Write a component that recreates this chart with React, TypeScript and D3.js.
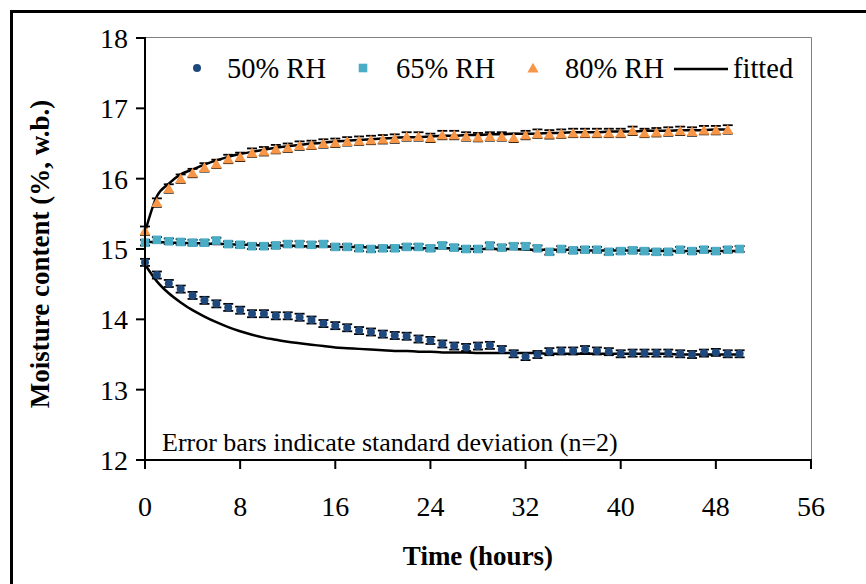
import React from "react";
import * as d3 from "d3";

const HOURS = [0,1,2,3,4,5,6,7,8,9,10,11,12,13,14,15,16,17,18,19,20,21,22,23,24,25,26,27,28,29,30,31,32,33,34,35,36,37,38,39,40,41,42,43,44,45,46,47,48,49,50];

const RH50 = [
  14.81, 14.63, 14.51, 14.43, 14.34, 14.27, 14.22, 14.17, 14.13, 14.08,
  14.08, 14.05, 14.05, 14.03, 13.99, 13.94, 13.91, 13.88, 13.84, 13.82,
  13.79, 13.77, 13.76, 13.72, 13.70, 13.65, 13.62, 13.60, 13.62, 13.63,
  13.57, 13.51, 13.47, 13.50, 13.54, 13.55, 13.55, 13.57, 13.55, 13.54,
  13.51, 13.52, 13.52, 13.52, 13.52, 13.51, 13.50, 13.52, 13.53, 13.51, 13.51,
];
const RH65 = [
  15.09, 15.13, 15.11, 15.10, 15.09, 15.09, 15.12, 15.07, 15.06, 15.04,
  15.04, 15.05, 15.07, 15.07, 15.06, 15.07, 15.03, 15.03, 15.01, 15.00,
  15.01, 15.01, 15.03, 15.03, 15.01, 15.05, 15.02, 15.00, 15.00, 15.05,
  15.02, 15.04, 15.04, 15.01, 14.96, 15.00, 14.98, 14.99, 14.99, 14.96,
  14.97, 14.98, 14.97, 14.96, 14.96, 14.99, 14.97, 14.99, 14.97, 14.99, 15.00,
];
const RH80 = [
  15.26, 15.66, 15.86, 16.00, 16.08, 16.16, 16.21, 16.28, 16.31, 16.37,
  16.39, 16.42, 16.44, 16.47, 16.48, 16.50, 16.51, 16.53, 16.54, 16.55,
  16.56, 16.57, 16.60, 16.60, 16.58, 16.62, 16.62, 16.60, 16.59, 16.60,
  16.60, 16.58, 16.62, 16.64, 16.63, 16.64, 16.65, 16.65, 16.65, 16.65,
  16.65, 16.68, 16.65, 16.66, 16.67, 16.68, 16.67, 16.69, 16.69, 16.70,
];

const FIT50 = [
  14.78, 14.54, 14.37, 14.24, 14.13, 14.04, 13.96, 13.89, 13.83, 13.78,
  13.74, 13.71, 13.68, 13.66, 13.64, 13.62, 13.60, 13.59, 13.58, 13.57,
  13.56, 13.55, 13.55, 13.54, 13.54, 13.53, 13.53, 13.53, 13.52, 13.52,
  13.52, 13.52, 13.52, 13.52, 13.51, 13.51, 13.51, 13.51, 13.51, 13.51,
  13.51, 13.51, 13.51, 13.51, 13.51, 13.50, 13.50, 13.50, 13.50, 13.50, 13.50,
];
const FIT65 = [
  15.10, 15.10, 15.09, 15.09, 15.08, 15.08, 15.07, 15.07, 15.06, 15.06,
  15.05, 15.05, 15.05, 15.04, 15.04, 15.04, 15.03, 15.03, 15.03, 15.02,
  15.02, 15.02, 15.02, 15.01, 15.01, 15.01, 15.01, 15.00, 15.00, 15.00,
  15.00, 15.00, 14.99, 14.99, 14.99, 14.99, 14.99, 14.98, 14.98, 14.98,
  14.98, 14.98, 14.98, 14.97, 14.97, 14.97, 14.97, 14.97, 14.97, 14.97, 14.97,
];
const FIT80 = [
  15.24, 15.75, 15.93, 16.06, 16.13, 16.20, 16.26, 16.31, 16.35, 16.38,
  16.41, 16.44, 16.46, 16.48, 16.50, 16.51, 16.53, 16.54, 16.55, 16.56,
  16.57, 16.58, 16.59, 16.59, 16.60, 16.61, 16.61, 16.62, 16.62, 16.63,
  16.63, 16.64, 16.64, 16.64, 16.65, 16.65, 16.66, 16.66, 16.66, 16.67,
  16.67, 16.67, 16.68, 16.68, 16.68, 16.69, 16.69, 16.69, 16.70, 16.70,
];

const SD50 = 0.05;
const SD65 = 0.04;
const SD80 = 0.06;

const X_TICKS = [0, 8, 16, 24, 32, 40, 48, 56];
const Y_TICKS = [12, 13, 14, 15, 16, 17, 18];
const LEGEND = ["50% RH", "65% RH", "80% RH", "fitted"];

const C50 = "#1F497D";
const C65 = "#4BACC6";
const C80 = "#F79646";
const FONT = "Liberation Serif, Times New Roman, serif";

export default function App() {
  const W = 866, H = 584;
  const x = d3.scaleLinear().domain([0, 56]).range([145, 811]);
  const y = d3.scaleLinear().domain([12, 18]).range([460, 38]);

  const line = (vals: number[]) =>
    d3.line<number>().x((_, i) => x(HOURS[i])).y((v) => y(v)).curve(d3.curveMonotoneX)(vals) || "";

  const errBars = (vals: number[], sd: number) =>
    vals.map((v, i) => {
      const cx = x(HOURS[i]);
      const y1 = y(v + sd), y2 = y(v - sd);
      return (
        <g key={i} stroke="#000" strokeWidth={1.8}>
          <line x1={cx} x2={cx} y1={y1} y2={y2} />
          <line x1={cx - 5} x2={cx + 5} y1={y1} y2={y1} />
          <line x1={cx - 5} x2={cx + 5} y1={y2} y2={y2} />
        </g>
      );
    });

  const tri = (cx: number, cy: number) =>
    `M${cx},${cy - 5.3} L${cx + 5.6},${cy + 4.5} L${cx - 5.6},${cy + 4.5} Z`;

  return (
    <svg width={W} height={H} style={{ position: "absolute", left: 0, top: 0, background: "#fff" }}>
      <g fontFamily={FONT}>
        <rect x={0} y={0} width={W} height={H} fill="#fff" />
        <rect x={11.5} y={11.5} width={1000} height={800} fill="none" stroke="#000" strokeWidth={3} />

        {/* plot frame */}
        <line x1={145} x2={811.5} y1={37.5} y2={37.5} stroke="#808080" strokeWidth={1} />
        <line x1={811.5} x2={811.5} y1={37.5} y2={460} stroke="#808080" strokeWidth={1} />

        {/* error bars */}
        {errBars(RH80, SD80)}
        {errBars(RH65, SD65)}
        {errBars(RH50, SD50)}

        {/* fitted lines */}
        <path d={line(FIT80)} fill="none" stroke="#000" strokeWidth={2.5} />
        <path d={line(FIT65)} fill="none" stroke="#000" strokeWidth={2.5} />
        <path d={line(FIT50)} fill="none" stroke="#000" strokeWidth={2.5} />

        {/* markers */}
        {RH80.map((v, i) => (
          <path key={"t" + i} d={tri(x(HOURS[i]), y(v))} fill={C80} />
        ))}
        {RH65.map((v, i) => (
          <rect key={"s" + i} x={x(HOURS[i]) - 4.3} y={y(v) - 4.3} width={8.6} height={8.6} fill={C65} />
        ))}
        {RH50.map((v, i) => (
          <circle key={"c" + i} cx={x(HOURS[i])} cy={y(v)} r={4} fill={C50} />
        ))}

        {/* axes */}
        <line x1={145} x2={145} y1={37} y2={461} stroke="#000" strokeWidth={2} />
        <line x1={136} x2={812} y1={460} y2={460} stroke="#000" strokeWidth={2} />
        {Y_TICKS.map((t) => (
          <g key={"yt" + t}>
            <line x1={136} x2={145} y1={y(t)} y2={y(t)} stroke="#000" strokeWidth={2} />
            <text x={128} y={y(t) + 10} textAnchor="end" fontSize={28} fontFamily={FONT}>{t}</text>
          </g>
        ))}
        {X_TICKS.map((t) => (
          <g key={"xt" + t}>
            <line x1={x(t)} x2={x(t)} y1={460} y2={469} stroke="#000" strokeWidth={2} />
            <text x={x(t)} y={516} textAnchor="middle" fontSize={28} fontFamily={FONT}>{t}</text>
          </g>
        ))}

        <text x={478} y={565} textAnchor="middle" fontSize={27} fontWeight="bold" fontFamily={FONT}>Time (hours)</text>
        <text transform={`translate(49,254) rotate(-90)`} textAnchor="middle" fontSize={27} fontWeight="bold" fontFamily={FONT}>
          Moisture content (%, w.b.)
        </text>

        {/* note */}
        <text x={162} y={451} fontSize={26} fontFamily={FONT}>Error bars indicate standard deviation (n=2)</text>

        {/* legend */}
        <circle cx={197} cy={68} r={4} fill={C50} />
        <text x={227} y={78} fontSize={28.5} fontFamily={FONT}>{LEGEND[0]}</text>
        <rect x={358.7} y={63.7} width={8.6} height={8.6} fill={C65} />
        <text x={396} y={78} fontSize={28.5} fontFamily={FONT}>{LEGEND[1]}</text>
        <path d={tri(533, 68)} fill={C80} />
        <text x={565} y={78} fontSize={28.5} fontFamily={FONT}>{LEGEND[2]}</text>
        <line x1={674} x2={728} y1={69} y2={69} stroke="#000" strokeWidth={2.5} />
        <text x={733} y={78} fontSize={28.5} fontFamily={FONT}>{LEGEND[3]}</text>
      </g>
    </svg>
  );
}
